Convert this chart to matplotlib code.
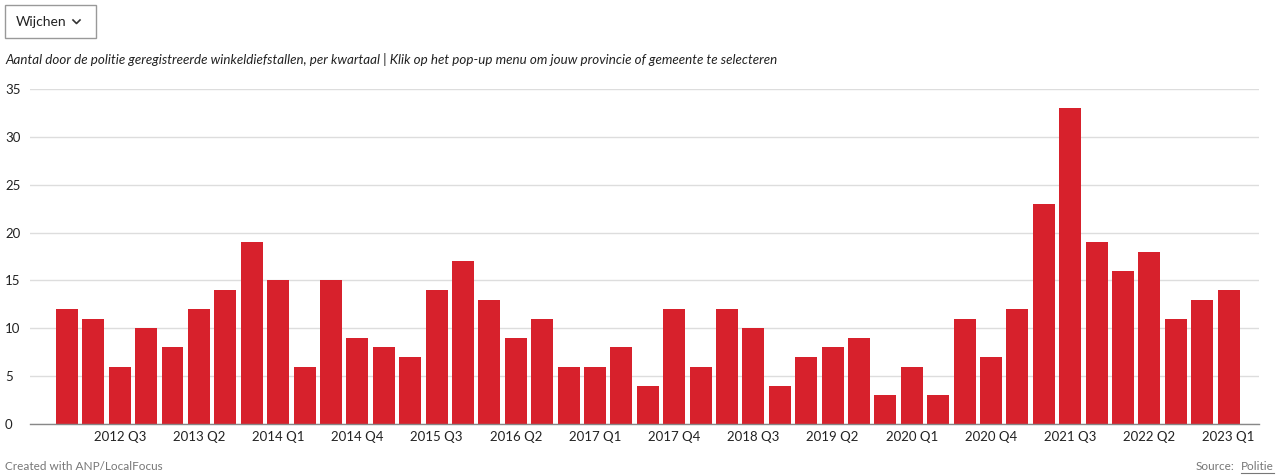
import matplotlib.pyplot as plt
from matplotlib.patches import Rectangle
from matplotlib.lines import Line2D

plt.rcParams['font.family'] = ['Lato', 'DejaVu Sans']

# Winkeldiefstallen Wijchen, per kwartaal 2012 Q1 - 2023 Q1
quarters = [f"{y} Q{q}" for y in range(2012, 2024) for q in range(1, 5)][:45]
values = [12, 11, 6, 10, 8, 12, 14, 19, 15, 6, 15, 9, 8, 7, 14, 17, 13, 9, 11,
          6, 6, 8, 4, 12, 6, 12, 10, 4, 7, 8, 9, 3, 6, 3, 11, 7, 12, 23, 33,
          19, 16, 18, 11, 13, 14]
yticks = [0, 5, 10, 15, 20, 25, 30, 35]

fig = plt.figure(figsize=(12.8, 4.76), dpi=100)
ax = fig.add_axes([0.0234, 0.1092, 0.960, 0.7038])

x = list(range(len(values)))
ax.bar(x, values, width=0.83, color='#d7212c', zorder=3)

ax.set_ylim(0, 35)
ax.set_xlim(-1.4, len(values) - 1 + 1.14)
ax.set_yticks(yticks)
ax.yaxis.grid(True, color='#dddddd', linewidth=1, zorder=0)
ax.set_yticklabels([str(v) for v in yticks], fontsize=9.5, color='#222222')
for lab in ax.get_yticklabels():
    lab.set_horizontalalignment('left')
ax.tick_params(axis='y', length=0, pad=18)

tick_idx = list(range(2, len(values), 3))
ax.set_xticks(tick_idx)
ax.set_xticklabels([quarters[i] for i in tick_idx], fontsize=9.5, color='#222222')
ax.tick_params(axis='x', length=0, pad=5)

for s in ['top', 'right', 'left']:
    ax.spines[s].set_visible(False)
ax.spines['bottom'].set_color('#888888')
ax.spines['bottom'].set_linewidth(1)
ax.spines['bottom'].set_zorder(4)

# dropdown box
W, H = 1280, 476
fig.patches.append(Rectangle((5 / W, 1 - 38 / H), 91 / W, 33 / H, transform=fig.transFigure,
                             facecolor='white', edgecolor='#999999', linewidth=1))
fig.text(16 / W, 1 - 22 / H, "Wijchen", fontsize=10, va='center', ha='left', color='#222222')
fig.lines.append(Line2D([73 / W, 76.5 / W, 80 / W], [1 - 20 / H, 1 - 23.5 / H, 1 - 20 / H],
                        transform=fig.transFigure, color='#333333', linewidth=1.2))

fig.text(5 / W, 1 - 59 / H,
         "Aantal door de politie geregistreerde winkeldiefstallen, per kwartaal | "
         "Klik op het pop-up menu om jouw provincie of gemeente te selecteren",
         fontsize=9.65, style='italic', va='center', ha='left', color='#222222')

fig.text(5 / W, 1 - 466 / H, "Created with ANP/LocalFocus", fontsize=8.5,
         color='#777777', va='center', ha='left')
fig.text(1196 / W, 1 - 466 / H, "Source:", fontsize=8.5, color='#777777',
         va='center', ha='left')
fig.text(1274 / W, 1 - 466 / H, "Politie", fontsize=8.5, color='#777777',
         va='center', ha='right')
fig.lines.append(Line2D([1241 / W, 1274 / W], [1 - 473 / H, 1 - 473 / H],
                        transform=fig.transFigure, color='#777777', linewidth=0.8))

fig.savefig('out.png', dpi=100)
